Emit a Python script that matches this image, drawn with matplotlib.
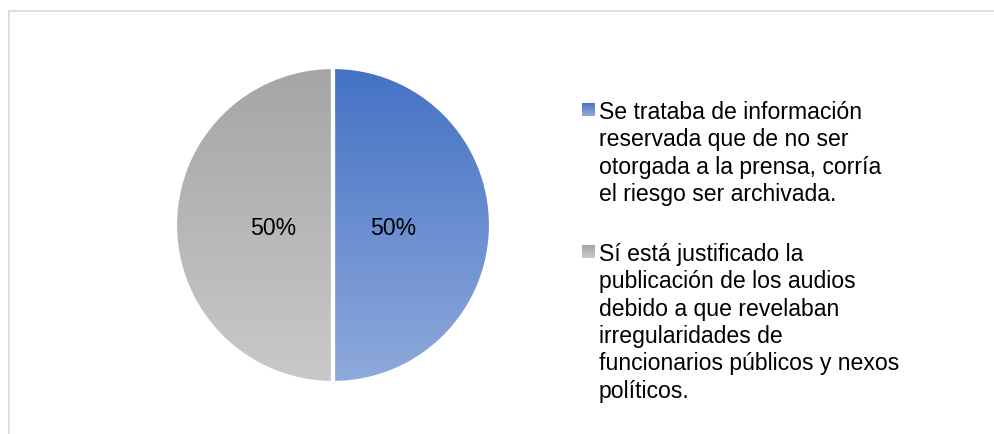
import numpy as np
import matplotlib.pyplot as plt
from matplotlib.colors import LinearSegmentedColormap
from matplotlib.lines import Line2D

plt.rcParams['font.family'] = ['Liberation Sans', 'DejaVu Sans']

# datos
labels = [
    'Se trataba de información\nreservada que de no ser\notorgada a la prensa, corría\nel riesgo ser archivada.',
    'Sí está justificado la\npublicación de los audios\ndebido a que revelaban\nirregularidades de\nfuncionarios públicos y nexos\npolíticos.',
]
values = [50, 50]
grad_top = ['#4472C4', '#A5A5A5']
grad_bottom = ['#8FAADC', '#C9C9C9']

W, H = 995, 434
FS = 16.6
fig = plt.figure(figsize=(W / 100, H / 100), dpi=100)

# borde del gráfico
fig.add_artist(Line2D([8.5 / W, 1], [1 - 10.5 / H, 1 - 10.5 / H], color='#D9D9D9', lw=1.2))
fig.add_artist(Line2D([8.5 / W, 8.5 / W], [0, 1 - 10.5 / H], color='#D9D9D9', lw=1.2))

# pastel
cx, cy, r = 333, 225, 158
ax = fig.add_axes([(cx - r) / W, (H - cy - r) / H, 2 * r / W, 2 * r / H])
wedges, _, pcts = ax.pie(values, startangle=90, counterclock=False, colors=grad_top,
                         autopct='%1.0f%%', pctdistance=0.38,
                         wedgeprops=dict(edgecolor='white', linewidth=3),
                         textprops=dict(fontsize=FS, color='black'))

# relleno con degradado vertical
grad = np.linspace(0, 1, 256).reshape(-1, 1)
for w, top, bot in zip(wedges, grad_top, grad_bottom):
    cmap = LinearSegmentedColormap.from_list('g', [bot, top])
    im = ax.imshow(grad, cmap=cmap, extent=[-1, 1, -1, 1], origin='lower',
                   aspect='auto', zorder=0.5)
    im.set_clip_path(w)
    w.set_facecolor('none')
for t in pcts:
    t.set_y(t.get_position()[1] - 0.02)
ax.set_xlim(-1, 1)
ax.set_ylim(-1, 1)
ax.axis('off')

# leyenda (cuadros con degradado)
text_x = 599
tops = [101, 243]
for lab, top, bot, yt in zip(labels, grad_top, grad_bottom, tops):
    sq = fig.add_axes([582 / W, 1 - (yt + 2 + 13) / H, 13 / W, 13 / H])
    cm = LinearSegmentedColormap.from_list('s', [bot, top])
    sq.imshow(grad, cmap=cm, origin='lower', aspect='auto')
    sq.axis('off')
    fig.text(text_x / W, 1 - yt / H, lab, fontsize=FS, va='top', ha='left',
             linespacing=1.24, color='black')

fig.savefig('out.png', dpi=100)
